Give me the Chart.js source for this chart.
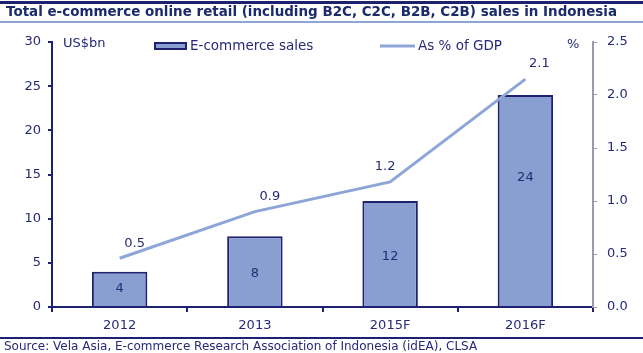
<!DOCTYPE html>
<html>
<head>
<meta charset="utf-8">
<script src="https://cdn.jsdelivr.net/npm/chart.js@4"></script>
<style>
  html, body { margin: 0; padding: 0; background: #fff; }
  #wrap { position: relative; width: 643px; height: 353px; }
</style>
</head>
<body>
<div id="wrap"><canvas id="chart" width="643" height="353"></canvas></div>
<script>
// data
const years = ['2012', '2013', '2015F', '2016F'];
const salesBn = [4, 8, 12, 24];
const gdpShare = [0.46, 0.9, 1.18, 2.15];
const gdpLabels = ['0.5', '0.9', '1.2', '2.1'];
const leftTicks = [0, 5, 10, 15, 20, 25, 30];
const rightTicks = [0, 0.5, 1.0, 1.5, 2.0, 2.5];

const NAVY = '#1e2070';
const TEXT = '#262a78';
const BAR = '#8a9fd1';
const LINE = '#8ea5d8';
const FONT = '"DejaVu Sans", Verdana, sans-serif';

// title, rules, source, units and legend
const decor = {
    id: 'decor',
    afterDraw(chart) {
        const ctx = chart.ctx;
        ctx.save();
        ctx.fillStyle = NAVY;
        ctx.fillRect(0, 1, 643, 3);
        ctx.fillStyle = LINE;
        ctx.fillRect(0, 21, 643, 2);
        ctx.fillStyle = NAVY;
        ctx.fillRect(0, 337, 643, 2);

        ctx.fillStyle = '#1a2a6c';
        ctx.font = 'bold 13px ' + FONT;
        ctx.textBaseline = 'middle';
        ctx.textAlign = 'left';
        const title = 'Total e-commerce online retail (including B2C, C2C, B2B, C2B) sales in Indonesia';
        const tw = ctx.measureText(title).width;
        ctx.save();
        ctx.translate(6, 13);
        ctx.scale(611 / tw, 611 / tw);
        ctx.fillText(title, 0, 0);
        ctx.restore();

        ctx.fillStyle = TEXT;
        ctx.font = '12px ' + FONT;
        ctx.fillText('Source: Vela Asia, E-commerce Research Association of Indonesia (idEA), CLSA', 4, 347);

        ctx.font = '13px ' + FONT;
        ctx.fillText('US$bn', 63, 44);
        ctx.fillText('%', 567, 45);

        // legend
        ctx.font = '13.5px ' + FONT;
        ctx.fillStyle = BAR;
        ctx.fillRect(155, 43, 31, 6);
        ctx.strokeStyle = NAVY;
        ctx.lineWidth = 2;
        ctx.strokeRect(155, 43, 31, 6);
        ctx.fillStyle = TEXT;
        ctx.fillText('E-commerce sales', 190, 46);
        ctx.strokeStyle = LINE;
        ctx.lineWidth = 3;
        ctx.beginPath();
        ctx.moveTo(380, 46);
        ctx.lineTo(415, 46);
        ctx.stroke();
        ctx.fillText('As % of GDP', 418, 46);
        ctx.restore();
    }
};

// value labels: inside the bars and above the line points
const labelOffsets = [15, 15, -5, 14];
const barLabelPos = [0.5, 0.47, 0.47, 0.61];
const valueLabels = {
    id: 'valueLabels',
    afterDatasetsDraw(chart) {
        const ctx = chart.ctx;
        ctx.save();
        ctx.fillStyle = TEXT;
        ctx.font = '13px ' + FONT;
        ctx.textAlign = 'center';
        ctx.textBaseline = 'middle';
        chart.getDatasetMeta(1).data.forEach((bar, i) => {
            ctx.fillText(String(salesBn[i]), bar.x, bar.base - (bar.base - bar.y) * barLabelPos[i]);
        });
        chart.getDatasetMeta(0).data.forEach((pt, i) => {
            ctx.fillText(gdpLabels[i], pt.x + labelOffsets[i], pt.y - 15);
        });
        ctx.restore();
    }
};

new Chart(document.getElementById('chart'), {
    data: {
        labels: years,
        datasets: [{
            type: 'line',
            label: 'As % of GDP',
            data: gdpShare,
            yAxisID: 'y1',
            borderColor: LINE,
            borderWidth: 3,
            pointRadius: 0,
            tension: 0,
            order: 0
        }, {
            type: 'bar',
            label: 'E-commerce sales',
            data: salesBn,
            yAxisID: 'y',
            backgroundColor: BAR,
            borderColor: NAVY,
            borderWidth: 2,
            borderSkipped: 'bottom',
            barPercentage: 0.41,
            categoryPercentage: 1,
            order: 1
        }]
    },
    options: {
        responsive: false,
        animation: false,
        layout: { padding: { top: 42, bottom: 15, left: 0, right: 0 } },
        plugins: { legend: { display: false }, tooltip: { enabled: false } },
        scales: {
            x: {
                offset: true,
                grid: { offset: true, drawOnChartArea: false, color: NAVY, tickLength: 5, lineWidth: 2 },
                border: { color: NAVY, width: 2 },
                ticks: { color: TEXT, font: { family: FONT, size: 13 }, padding: 6 },
                afterFit(s) { s.height = 31; }
            },
            y: {
                position: 'left',
                min: 0, max: 30,
                afterBuildTicks(s) { s.ticks = leftTicks.map(v => ({ value: v })); },
                grid: { drawOnChartArea: false, color: NAVY, tickLength: 4, lineWidth: 2 },
                border: { color: NAVY, width: 2 },
                ticks: { color: TEXT, font: { family: FONT, size: 13 }, padding: 7 },
                afterFit(s) { s.width = 52; }
            },
            y1: {
                position: 'right',
                min: 0, max: 2.5,
                afterBuildTicks(s) { s.ticks = rightTicks.map(v => ({ value: v })); },
                grid: { drawOnChartArea: false, color: '#9a9aaa', tickLength: 4, lineWidth: 1 },
                border: { color: '#9a9aaa', width: 2 },
                ticks: { color: TEXT, font: { family: FONT, size: 13 }, padding: 10, callback: v => v.toFixed(1) },
                afterFit(s) { s.width = 50; }
            }
        }
    },
    plugins: [decor, valueLabels]
});
</script>
</body>
</html>
